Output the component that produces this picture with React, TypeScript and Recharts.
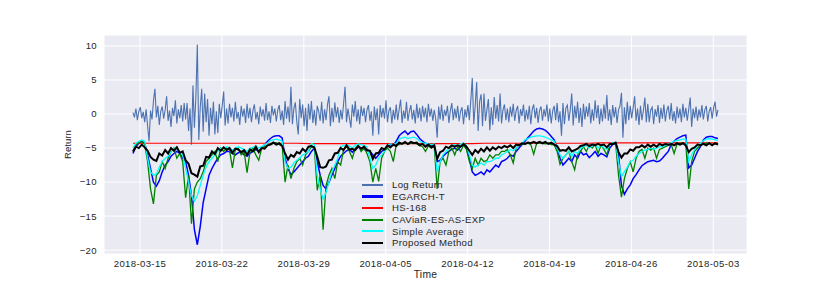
import { CartesianGrid, Legend, Line, LineChart, XAxis, YAxis } from "recharts";

// log returns every 3 hours, risk forecasts every 6 hours, HS-168 daily
const START_DAY = -0.6; // days relative to 2018-03-15 00:00
const STEP_DAYS = 0.125;

const xTicks = [0, 7, 14, 21, 28, 35, 42, 49];
const xTickLabels = [
  "2018-03-15",
  "2018-03-22",
  "2018-03-29",
  "2018-04-05",
  "2018-04-12",
  "2018-04-19",
  "2018-04-26",
  "2018-05-03",
];
const yTicks = [-20, -15, -10, -5, 0, 5, 10];

const logReturn = [
  0.2, -0.5, 0.8, -0.9, 0.4, 1.0, -0.6, 0.3, -1.2, 0.7, -1.8, -4.0, 0.5, -0.8, 1.9, 3.7, -0.5, 1.2, -1.6, 0.4,
  1.1, -0.7, 0.6, 2.6, -1.0, 0.5, -1.9, 0.9, -0.3, 2.0, -1.4, 0.7, -0.6, 1.3, -1.1, 1.6, -0.8, 1.6, -2.5, 0.8,
  -4.5, 4.2, -2.0, 2.5, 10.2, -3.8, 1.0, 3.7, -2.6, 3.0, -1.2, 2.2, -3.2, 0.9, -1.5, 1.8, -3.0, 0.4, -2.8, 1.5,
  -0.6, 1.2, 3.3, -1.7, 0.8, -1.4, 1.5, -0.5, 0.9, -1.1, 1.8, -0.7, 0.3, -1.6, 1.2, -0.4, 0.8, -1.3, 1.5, -0.6,
  0.9, -1.2, 0.5, 1.4, -0.8, 0.3, -1.5, 1.1, -0.4, 0.7, -1.0, 1.6, -0.9, 0.4, -1.3, 1.2, -0.2, 0.8, -1.1, 0.6,
  1.3, -0.9, 0.5, -1.6, 1.9, -0.7, 1.1, -1.2, 4.0, -1.5, 0.8, 1.7, -1.1, -3.0, 2.2, -0.6, 1.4, -1.8, 0.9, -2.5,
  1.5, -0.8, 1.9, -1.3, 0.6, -1.7, 1.2, 0.3, -1.0, 1.8, -1.4, 0.7, -0.9, 1.4, 2.6, -1.8, 0.9, -1.2, 1.7, -0.5,
  1.0, -1.3, 0.6, -0.8, 1.5, 4.0, -1.2, 0.8, -0.6, -2.0, 1.4, -0.4, 1.9, -1.1, 0.7, -1.5, 1.2, -0.3, 0.9, -1.2,
  0.6, 1.3, -1.0, 0.4, -3.2, 1.1, -0.9, 0.8, -3.0, 1.3, -0.5, 0.9, -0.7, 2.0, -1.2, 0.5, 1.0, -1.4, 0.6, -0.8,
  1.4, -0.9, 0.7, 2.1, -1.3, 0.5, -0.7, 1.8, -1.0, 0.4, 1.3, -0.8, 0.6, -1.4, 1.5, -0.6, 0.9, -1.1, 1.2, -0.5,
  0.9, -1.2, 1.5, -0.4, 0.8, -1.0, 0.6, -0.7, -3.5, 1.1, -0.8, 1.4, -1.0, 0.6, -0.3, 1.2, -1.3, 0.5, 1.6, -0.9,
  0.8, -0.6, 1.2, -1.1, 0.4, 1.0, -1.5, 0.7, -0.5, 1.3, -0.9, 2.0, 5.3, -1.5, 1.2, 4.7, -2.5, 1.8, 2.9, -1.8,
  3.0, -1.0, 0.6, 2.2, -2.4, 1.0, -1.6, 2.5, -0.7, 1.3, -1.1, 3.0, -1.4, 0.6, 1.4, -0.9, 0.8, -1.2, 1.1, -0.4,
  1.5, -1.0, 0.5, 1.2, -1.4, 0.7, -0.3, 1.4, -1.1, 0.6, -0.8, 1.2, -1.5, 0.7, 1.4, -0.6, 0.9, -1.3, 0.5, 1.1,
  -1.0, 0.7, -0.4, 1.4, -1.1, 0.8, -1.4, 0.5, 1.2, -0.9, 1.6, -1.2, 0.4, -3.2, 1.6, -1.5, 0.9, 1.3, -1.0, 0.6,
  3.0, -1.7, 1.2, -0.6, 1.8, -1.3, 0.9, -1.9, 1.5, -0.8, 1.1, -0.4, 1.6, -1.4, 0.7, -1.0, 2.0, -0.6, 1.3, -1.5,
  0.8, -1.1, 1.4, -0.7, 2.8, -1.0, 0.7, -1.6, 1.3, -0.5, 1.0, -1.3, 0.6, 1.2, 3.1, -3.5, 1.0, -1.5, 1.8, -0.9,
  1.2, -0.6, 0.9, 2.6, -1.0, 0.8, -1.6, 1.2, -0.9, 0.5, 2.4, -1.2, 1.5, -1.2, 0.6, 1.0, -1.5, 0.7, -0.4, 1.3,
  -1.3, 0.9, -0.7, 1.4, -1.1, 0.5, 1.2, -0.8, 1.6, -1.0, 0.4, -1.4, 1.1, -0.6, 0.8, -1.2, 1.5, -0.5, 0.9, -1.0,
  0.7, 2.4, -1.9, 0.8, -0.6, 1.1, -1.0, 0.7, -0.5, 1.3, -0.8, 0.6, 1.2, -1.1, 0.4, 1.0, -0.7, 0.9, 1.8, -0.4,
  0.6,
];

// 6-hourly
const egarchT = [
  -5.8, -4.8, -4.3, -4.0, -4.3,
  -6.0, -8.0, -10.0, -10.6, -9.8, -8.5, -7.5, -7.0,
  -6.2, -5.8, -5.5, -5.8, -6.5,
  -7.0, -9.0, -12.0, -17.0, -19.2, -16.5, -13.0, -11.0, -9.0,
  -8.0, -7.2, -6.5, -6.0, -5.8, -5.5,
  -5.5, -5.8, -6.0, -5.7, -5.6, -6.0, -6.2, -5.8, -5.5, -5.2, -5.5, -5.0, -4.5, -4.0,
  -3.6, -3.3, -3.2, -3.2, -3.5,
  -6.5, -8.0, -8.9, -8.5, -8.0, -7.5, -7.0, -6.5, -6.2,
  -5.5, -5.0,
  -7.0, -9.0, -10.5, -11.0, -10.0, -9.0, -8.0, -7.0,
  -6.2, -5.8, -5.4, -5.2, -5.6, -5.2, -4.9, -5.0, -5.2, -5.4,
  -5.5, -6.0, -6.5, -6.0, -5.5, -5.2,
  -4.8, -4.5, -4.6, -4.0,
  -3.2, -2.8, -2.5, -3.0, -2.6, -2.5, -3.0,
  -3.6, -4.0, -4.3, -4.5, -4.6, -4.5,
  -7.0,
  -6.8, -6.2, -5.8, -5.5,
  -5.2, -5.0, -5.3, -4.8, -4.6, -5.0,
  -6.5, -8.5, -9.0, -8.8, -8.5, -8.9, -8.2, -8.5, -8.0, -7.5, -7.8, -7.0,
  -6.8, -6.5, -6.0, -6.2, -5.5, -5.0, -4.5,
  -4.0, -3.5, -3.0, -2.5, -2.2, -2.1, -2.2, -2.4, -2.8, -3.3, -3.8,
  -5.0, -6.5, -7.5, -7.0, -6.5, -7.0, -6.0, -6.5, -5.5,
  -6.0, -5.8, -6.4, -6.0, -5.5, -6.2, -5.8,
  -6.0, -6.3, -5.0, -4.5, -4.3,
  -6.0, -10.5, -11.8, -11.0, -10.4, -9.5, -8.9,
  -8.2, -7.6, -7.3, -7.0, -6.9, -6.8, -7.0, -6.9, -6.5, -6.0, -5.5,
  -4.5, -4.0, -3.6, -3.4, -3.2, -3.1,
  -7.9, -7.5, -6.5, -5.5, -4.8,
  -3.8, -3.4, -3.3, -3.3, -3.5, -3.6,
];

// daily
const hs168 = [
  -4.3, -4.3, -4.3, -4.3, -4.3, -4.3, -4.3, -4.3, -4.3, -4.3,
  -4.3, -4.3, -4.3, -4.3, -4.3, -4.35, -4.35, -4.35, -4.35, -4.35,
  -4.35, -4.35, -4.35, -4.35, -4.35, -4.35, -4.35, -4.35, -4.35, -4.35,
  -4.3, -4.3, -4.3, -4.3, -4.3, -4.3, -4.3, -4.3, -4.3, -4.3,
  -4.25, -4.25, -4.25, -4.25, -4.25, -4.25, -4.25, -4.25, -4.25, -4.25,
  -4.25,
];

// 6-hourly
const caviar = [
  -5.5, -4.5, -4.2, -4.0, -4.5,
  -7.0, -11.0, -13.2, -9.0, -8.5, -7.0, -8.0, -6.5,
  -5.5, -5.0, -6.5, -5.8, -7.0,
  -12.3, -9.0, -16.1, -11.0, -10.0, -9.5, -8.5, -7.0, -6.5,
  -6.0, -5.5, -7.0, -5.0, -5.5, -5.0,
  -5.3, -7.9, -5.2, -5.0, -6.0, -5.5, -8.6, -5.5, -5.0, -6.0, -6.8, -5.0, -4.8, -4.6,
  -4.4, -4.3, -4.2, -4.5, -4.6,
  -10.0, -7.5, -9.5, -8.0, -7.0, -6.5, -7.5, -6.0, -5.5,
  -4.8, -5.0,
  -11.2, -9.0, -17.0, -10.5, -9.0, -8.0, -9.5, -7.0,
  -7.5, -5.2, -4.8, -5.5, -6.5, -5.0, -4.6, -5.5, -5.0, -5.8,
  -7.0, -10.0, -8.0, -9.9, -6.5, -5.5,
  -5.0, -5.5, -7.0, -4.5,
  -4.5, -4.3, -4.2, -4.4, -4.3, -4.2, -4.4,
  -4.6, -4.8, -5.5, -4.7, -5.0, -4.8,
  -11.0,
  -7.0, -6.5, -7.5, -5.5,
  -5.0, -6.0, -4.8, -5.5, -4.6, -5.2,
  -7.0, -8.0, -6.5, -7.5, -6.5, -7.0, -6.8, -6.0, -6.5, -6.0, -6.0, -5.5,
  -5.5, -5.2, -6.0, -7.2, -5.0, -4.6, -4.4,
  -4.4, -4.3, -4.5, -5.9, -4.3, -4.2, -4.3, -4.4, -4.3, -4.5, -4.5,
  -5.5, -7.4, -6.5, -6.0, -5.5, -7.0, -8.2, -6.0, -5.5,
  -4.8, -5.5, -4.6, -5.0, -4.5, -5.8, -4.6,
  -5.2, -6.0, -4.5, -4.4, -4.3,
  -9.0, -12.2, -9.5, -8.0, -7.0, -8.5, -6.5,
  -5.5, -5.2, -6.5, -5.0, -5.3, -5.0, -6.5, -5.2, -5.0, -4.8, -4.6,
  -4.5, -5.8, -4.4, -4.3, -4.3, -4.4,
  -11.0, -7.0, -5.5, -5.0, -4.6,
  -4.4, -4.3, -4.3, -4.5, -4.4, -4.3,
];

// 6-hourly
const simpleAverage = [
  -5.0, -4.3, -4.0, -3.8, -4.0,
  -6.5, -8.5, -9.0, -8.8, -7.8, -7.0, -6.5, -6.2,
  -5.5, -5.0, -5.2, -5.6, -6.0,
  -8.0, -10.0, -12.0, -12.8, -12.0, -10.5, -9.0, -7.8, -7.0,
  -6.5, -6.0, -5.5, -5.0, -5.2, -4.8,
  -5.0, -5.3, -5.0, -4.8, -5.0, -5.2, -5.5, -5.0, -4.9, -4.7, -5.0, -4.8, -4.5, -4.3,
  -3.9, -3.8, -3.7, -3.8, -4.0,
  -7.0, -8.0, -7.8, -7.2, -6.8, -6.5, -6.0, -5.8, -5.5,
  -4.3, -4.5,
  -9.0, -11.0, -12.5, -11.5, -10.0, -8.5, -7.5, -6.5,
  -4.8, -4.6, -4.5, -4.7, -5.0, -4.6, -4.4, -4.5, -4.6, -4.8,
  -6.5, -8.0, -7.5, -6.5, -6.0, -5.5,
  -4.6, -4.4, -4.5, -4.3,
  -3.7, -3.5, -3.4, -3.6, -3.5, -3.4, -3.6,
  -4.0, -4.2, -4.3, -4.4, -4.5, -4.4,
  -8.5,
  -7.0, -6.0, -5.5, -5.0,
  -4.6, -4.5, -4.7, -4.4, -4.3, -4.6,
  -6.0, -7.5, -7.8, -7.5, -7.2, -7.5, -7.0, -7.0, -6.8, -6.5, -6.5, -6.0,
  -5.8, -5.5, -5.2, -5.4, -5.0, -4.6, -4.3,
  -3.8, -3.6, -3.4, -3.3, -3.2, -3.2, -3.3, -3.4, -3.6, -3.8, -4.0,
  -5.0, -6.0, -6.5, -6.0, -5.5, -6.2, -5.5, -5.8, -5.0,
  -4.8, -4.6, -5.0, -4.7, -4.5, -5.0, -4.6,
  -5.0, -5.2, -4.5, -4.2, -4.2,
  -7.0, -9.2, -8.5, -7.8, -7.0, -6.8, -6.2,
  -5.8, -5.5, -5.3, -5.2, -5.0, -5.2, -5.0, -4.8, -4.8, -4.6, -4.5,
  -4.2, -4.0, -3.9, -3.8, -3.7, -3.7,
  -7.0, -6.0, -5.2, -4.6, -4.3,
  -3.9, -3.7, -3.6, -3.7, -3.8, -3.9,
];

// 6-hourly
const proposed = [
  -5.5, -4.8, -5.0, -4.5, -4.9,
  -5.4, -6.3, -6.7, -6.9, -5.8, -6.1, -5.3, -5.8,
  -5.0, -5.4, -4.9, -5.7, -5.5,
  -6.8, -7.3, -8.7, -8.9, -9.2, -7.7, -7.6, -6.3, -6.4,
  -5.5, -5.9, -5.0, -5.4, -4.9, -5.3,
  -5.0, -5.7, -5.1, -5.2, -5.6, -5.3, -6.0, -5.2, -5.5, -4.8, -5.6, -5.0, -5.1, -4.6,
  -4.5, -4.2, -4.5, -4.3, -4.7,
  -5.8, -6.7, -6.0, -6.3, -5.6, -5.8, -5.1, -5.5, -4.8,
  -4.7, -4.9,
  -6.3, -7.8, -7.9, -7.7, -6.8, -6.7, -5.8, -5.7,
  -5.0, -5.3, -4.6, -5.2, -5.1, -5.3, -4.7, -5.1, -4.8, -5.3,
  -5.4, -6.6, -5.8, -5.7, -5.0, -5.2,
  -4.6, -4.9, -4.5, -4.7,
  -4.2, -4.4, -4.1, -4.4, -4.1, -4.3, -4.2,
  -4.6, -4.4, -4.8, -4.5, -4.9, -4.6,
  -6.6,
  -5.6, -5.4, -4.8, -5.0,
  -4.6, -4.8, -4.6, -4.8, -4.4, -4.8,
  -5.4, -6.0, -5.3, -5.7, -5.1, -5.5, -4.9, -5.4, -4.9, -5.2, -4.8, -5.0,
  -4.7, -4.9, -4.6, -5.0, -4.5, -4.6, -4.3,
  -4.4, -4.2, -4.3, -4.1, -4.3, -4.1, -4.3, -4.1, -4.4, -4.2, -4.5,
  -4.7, -5.4, -5.3, -5.4, -4.9, -5.5, -5.3, -5.1, -4.7,
  -4.6, -4.4, -4.7, -4.5, -4.6, -4.4, -4.6,
  -4.5, -4.9, -4.4, -4.4, -4.2,
  -5.6, -6.4, -5.8, -5.8, -5.2, -5.4, -4.9,
  -4.9, -4.6, -4.9, -4.5, -4.8, -4.5, -4.8, -4.4, -4.6, -4.4, -4.5,
  -4.4, -4.6, -4.3, -4.5, -4.3, -4.6,
  -5.6, -5.1, -4.9, -4.5, -4.6,
  -4.4, -4.6, -4.3, -4.6, -4.3, -4.5,
];

const SERIES = [
  { key: "logReturn", name: "Log Return", color: "#4C72B0", width: 1.1, legend: 2 },
  { key: "egarch", name: "EGARCH-T", color: "#0000FF", width: 1.5, legend: 2.5 },
  { key: "hs", name: "HS-168", color: "#FF0000", width: 1.2, legend: 2 },
  { key: "caviar", name: "CAViaR-ES-AS-EXP", color: "#008000", width: 1.3, legend: 2 },
  { key: "simple", name: "Simple Average", color: "#00FFFF", width: 1.3, legend: 2 },
  { key: "proposed", name: "Proposed Method", color: "#000000", width: 2, legend: 2.2 },
];

const at = (arr: number[], i: number, every: number) => (i % every === 0 ? arr[i / every] : null);

const rows = logReturn.map((v, i) => ({
  t: START_DAY + i * STEP_DAYS,
  logReturn: v,
  egarch: at(egarchT, i, 2),
  hs: at(hs168, i, 8),
  caviar: at(caviar, i, 2),
  simple: at(simpleAverage, i, 2),
  proposed: at(proposed, i, 2),
}));

const FONT = '"Liberation Sans", Arial, sans-serif';
const TEXT = "#262626";

const fmtY = (v: number) => (v < 0 ? `\u2212${Math.abs(v)}` : `${v}`);
const fmtX = (v: number) => xTickLabels[xTicks.indexOf(v)] ?? "";

function LegendBox() {
  return (
    <div style={{ fontFamily: FONT, fontSize: 9.6, letterSpacing: 0.35, color: TEXT }}>
      {SERIES.map((s) => (
        <div key={s.key} style={{ display: "flex", alignItems: "center", height: 11.6 }}>
          <span
            style={{
              display: "inline-block",
              width: 21,
              height: s.legend,
              background: s.color,
              marginLeft: 2,
              marginRight: 9,
            }}
          />
          <span style={{ whiteSpace: "nowrap" }}>{s.name}</span>
        </div>
      ))}
    </div>
  );
}

export default function App() {
  return (
    <div style={{ position: "absolute", left: 0, top: 0, width: 830, height: 291, background: "#fff" }}>
      <LineChart
        width={830}
        height={291}
        data={rows}
        margin={{ top: 35, right: 83, bottom: 0, left: 0 }}
      >
        <CartesianGrid fill="#EAEAF2" stroke="#FFFFFF" strokeWidth={1} />
        <XAxis
          dataKey="t"
          type="number"
          domain={[-3.077, 51.88]}
          allowDataOverflow
          ticks={xTicks}
          tickFormatter={fmtX}
          axisLine={false}
          tickLine={false}
          tickSize={0}
          tickMargin={6}
          height={37}
          tick={{ fill: TEXT, fontSize: 9.6, fontFamily: FONT, letterSpacing: 0.35 }}
          label={{
            content: () => (
              <text x={425.5} y={278} textAnchor="middle" fill={TEXT} fontSize={10.3} fontFamily={FONT} letterSpacing={0.3}>
                Time
              </text>
            ),
          }}
        />
        <YAxis
          type="number"
          domain={[-20.56, 11.6]}
          allowDataOverflow
          ticks={yTicks}
          tickFormatter={fmtY}
          axisLine={false}
          tickLine={false}
          tickSize={0}
          tickMargin={7}
          width={104}
          tick={{ fill: TEXT, fontSize: 9.6, fontFamily: FONT, letterSpacing: 0.35 }}
          label={{
            content: () => (
              <text
                x={71}
                y={144.5}
                textAnchor="middle"
                fill={TEXT}
                fontSize={9.6}
                fontFamily={FONT}
                transform="rotate(-90 71 144.5)"
              >
                Return
              </text>
            ),
          }}
        />
        {SERIES.map((s) => (
          <Line
            key={s.key}
            dataKey={s.key}
            name={s.name}
            type="linear"
            stroke={s.color}
            strokeWidth={s.width}
            dot={false}
            connectNulls
            isAnimationActive={false}
          />
        ))}
        <Legend
          layout="vertical"
          align="center"
          verticalAlign="middle"
          content={() => <LegendBox />}
          wrapperStyle={{ left: 360, top: 179, width: 160 }}
        />
      </LineChart>
    </div>
  );
}
